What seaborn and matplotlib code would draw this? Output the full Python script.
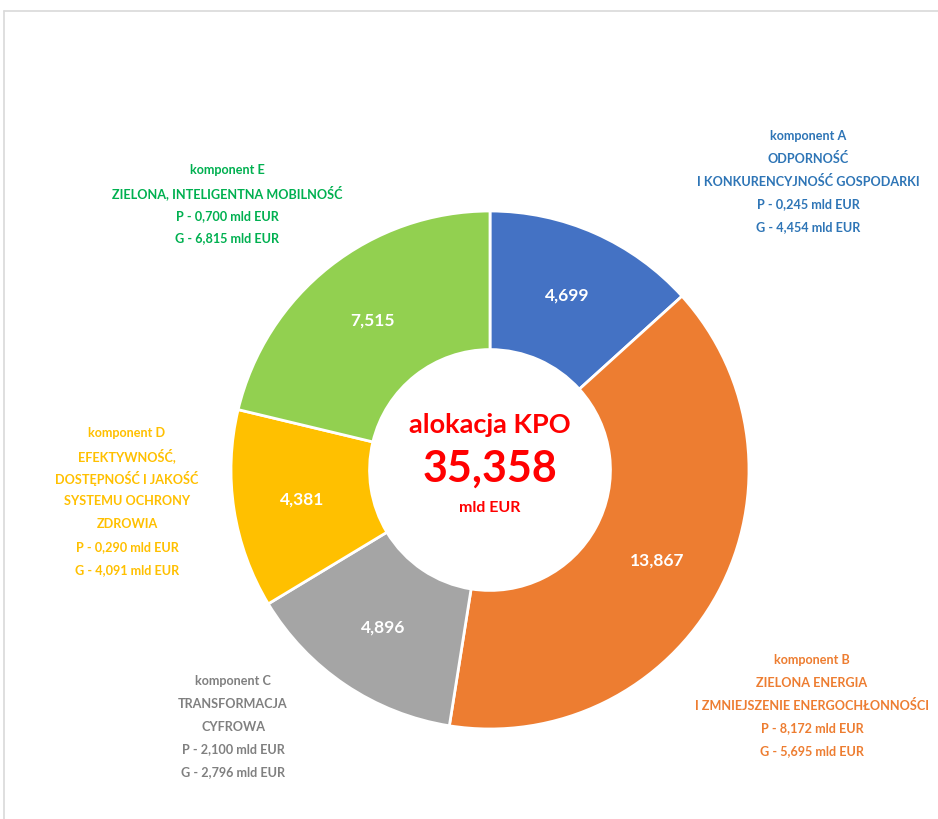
import matplotlib
matplotlib.use("Agg")
import matplotlib.pyplot as plt
import seaborn as sns

# KPO allocation by component (mld EUR)
components = ["A", "B", "C", "D", "E"]
values = [4.699, 13.867, 4.896, 4.381, 7.515]
p_values = [0.245, 8.172, 2.100, 0.290, 0.700]
g_values = [4.454, 5.695, 2.796, 4.091, 6.815]
titles = [
    ["ODPORNOŚĆ", "I KONKURENCYJNOŚĆ GOSPODARKI"],
    ["ZIELONA ENERGIA", "I ZMNIEJSZENIE ENERGOCHŁONNOŚCI"],
    ["TRANSFORMACJA", "CYFROWA"],
    ["EFEKTYWNOŚĆ,", "DOSTĘPNOŚĆ I JAKOŚĆ", "SYSTEMU OCHRONY", "ZDROWIA"],
    ["ZIELONA, INTELIGENTNA MOBILNOŚĆ"],
]
slice_colors = ["#4472C4", "#ED7D31", "#A5A5A5", "#FFC000", "#92D050"]
text_colors = ["#2E75B6", "#ED7D31", "#808080", "#FFC000", "#00B050"]

sns.set_theme(style="white")
plt.rcParams["font.family"] = ["Lato", "DejaVu Sans"]

W, H = 938, 819
fig = plt.figure(figsize=(W / 100, H / 100), dpi=100)
fig.patch.set_facecolor("white")
ax = fig.add_axes([0, 0, 1, 1])


def fy(py):
    """Convert a top-down pixel row to data y."""
    return H - py


def pl(v):
    return f"{v:.3f}".replace(".", ",")


cx, cy, R = 490, fy(470), 259
palette = sns.color_palette(slice_colors)
wedges, _, autotexts = ax.pie(
    values,
    colors=palette,
    startangle=90,
    counterclock=False,
    center=(cx, cy),
    radius=R,
    wedgeprops=dict(width=R * 0.535, edgecolor="white", linewidth=2),
    autopct=lambda pct: pl(pct * sum(values) / 100),
    pctdistance=0.735,
    textprops=dict(color="white", fontsize=12.5, fontweight="bold"),
)

ax.set_xlim(0, W)
ax.set_ylim(0, H)
ax.set_aspect("equal")
ax.axis("off")

# Centre summary
total = sum(values)
ax.text(cx, fy(425), "alokacja KPO", ha="center", va="center",
        color="#FF0000", fontsize=19.5, fontweight="bold")
ax.text(cx, fy(469), pl(total), ha="center", va="center",
        color="#FF0000", fontsize=31, fontweight="bold")
ax.text(cx, fy(508), "mld EUR", ha="center", va="center",
        color="#FF0000", fontsize=11.5, fontweight="bold")

# Outer component descriptions: centre x and first-line row, fixed line step
label_pos = {
    "A": (808, 135),
    "B": (812, 659),
    "C": (233, 680),
    "D": (127, 432),
    "E": (227, 169),
}
step = 22.8
for i, comp in enumerate(components):
    lines = [f"komponent {comp}"] + titles[i] + [
        f"P - {pl(p_values[i])} mld EUR",
        f"G - {pl(g_values[i])} mld EUR",
    ]
    x, y0 = label_pos[comp]
    for k, line in enumerate(lines):
        ax.text(x, fy(y0 + k * step), line, ha="center", va="center_baseline",
                color=text_colors[i], fontsize=9.1, fontweight="bold")

# Light frame along the top and left edge
fig.add_artist(plt.Line2D([4 / W, 1], [1 - 11 / H, 1 - 11 / H],
                          transform=fig.transFigure, color="#D9D9D9", lw=1.2))
fig.add_artist(plt.Line2D([4 / W, 4 / W], [0, 1 - 11 / H],
                          transform=fig.transFigure, color="#D9D9D9", lw=1.2))

fig.savefig("out.png", dpi=100, facecolor="white")
